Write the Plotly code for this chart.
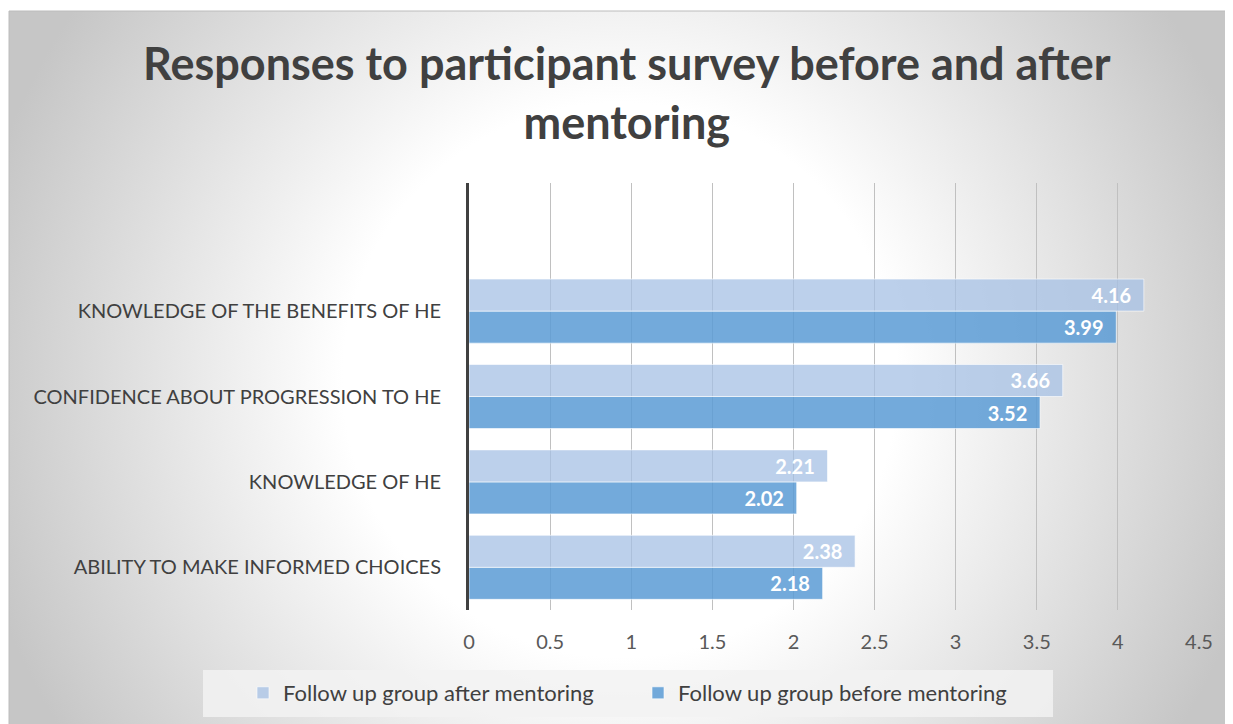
import base64
import plotly.graph_objects as go

categories = ["ABILITY TO MAKE INFORMED CHOICES", "KNOWLEDGE OF HE",
              "CONFIDENCE ABOUT PROGRESSION TO HE", "KNOWLEDGE OF THE BENEFITS OF HE"]
before = [2.18, 2.02, 3.52, 3.99]
after = [2.38, 2.21, 3.66, 4.16]
x_ticks = [0, 0.5, 1, 1.5, 2, 2.5, 3, 3.5, 4, 4.5]
series_names = ["Follow up group before mentoring", "Follow up group after mentoring"]
title_text = "Responses to participant survey before and after<br>mentoring"

# page body adds an 8px offset; work in figure pixels = reference pixels - 8
OFF = 8
W, H = 1233, 724
L, R, T, B = 469 - OFF, 1199 - OFF, 183 - OFF, 610 - OFF

# background radial gradient (drawn in its own pixel space, frame starts at ref (9, 11))
FX, FY = 9, 11
GW, GH = W + OFF - FX, H + OFF - FY
gcx, gcy = 620 - FX, 380 - FY
svg = f'''<svg xmlns="http://www.w3.org/2000/svg" width="{GW}" height="{GH}" viewBox="0 0 {GW} {GH}" preserveAspectRatio="none">
<defs><radialGradient id="g" gradientUnits="userSpaceOnUse" cx="{gcx}" cy="{gcy}" r="660">
<stop offset="0" stop-color="#ffffff"/><stop offset="0.42" stop-color="#ffffff"/>
<stop offset="1" stop-color="#c6c6c6"/></radialGradient></defs>
<rect x="0" y="0" width="{GW}" height="{GH}" fill="url(#g)"/></svg>'''
src = "data:image/svg+xml;base64," + base64.b64encode(svg.encode()).decode()


def px_x(p):  # p in reference pixels
    return (p - OFF - L) / (R - L)


def px_y(p):
    return (B - (p - OFF)) / (B - T)


ypos = list(range(len(categories)))
font = "Lato"
pad = "\u00a0\u00a0"

fig = go.Figure()
fig.add_trace(go.Bar(
    y=ypos, x=before, orientation="h", name=series_names[0],
    marker=dict(color="rgba(91,155,213,0.85)", line=dict(color="rgba(255,255,255,0.6)", width=1)),
    text=[f"{v:.2f}{pad}" for v in before], textposition="inside", insidetextanchor="end",
    textfont=dict(family=font, size=20, color="white", weight="bold"),
))
fig.add_trace(go.Bar(
    y=ypos, x=after, orientation="h", name=series_names[1],
    marker=dict(color="rgba(165,192,228,0.75)", line=dict(color="rgba(255,255,255,0.6)", width=1)),
    text=[f"{v:.2f}{pad}" for v in after], textposition="inside", insidetextanchor="end",
    textfont=dict(family=font, size=20, color="white", weight="bold"),
))

fig.update_layout(
    width=W, height=H,
    margin=dict(l=L, r=W - R, t=T, b=H - B, autoexpand=False),
    paper_bgcolor="white", plot_bgcolor="rgba(0,0,0,0)",
    barmode="group", bargap=0.25, bargroupgap=0,
    font=dict(family=font, color="#404040"),
    xaxis=dict(range=[0, 4.5], tickvals=x_ticks, ticktext=[f"{v:g}" for v in x_ticks],
               showgrid=True, gridcolor="#c0c0c0", gridwidth=1, zeroline=False,
               showline=False, ticks="", ticklabelstandoff=18,
               tickfont=dict(family=font, size=20, color="#595959"), fixedrange=True),
    yaxis=dict(range=[-0.5, 4.5], tickvals=ypos, ticktext=categories,
               showgrid=False, zeroline=False, showline=True, linecolor="#404040", linewidth=3,
               ticks="", ticklabelstandoff=21,
               tickfont=dict(family=font, size=20, color="#404040"), fixedrange=True),
    legend=dict(orientation="h", traceorder="reversed", x=px_x(243), xanchor="left",
                y=px_y(693), yanchor="middle", bgcolor="rgba(0,0,0,0)",
                font=dict(family=font, size=22, color="#404040"), entrywidth=350),
    showlegend=True,
    annotations=[dict(text=f"<b>{title_text}</b>", xref="paper", yref="paper",
                      x=px_x(627), y=px_y(92), xanchor="center", yanchor="middle",
                      showarrow=False, font=dict(family=font, size=45, color="#404040"))],
    images=[dict(source=src, xref="paper", yref="paper", x=px_x(FX), y=px_y(FY),
                 sizex=GW / (R - L), sizey=GH / (B - T),
                 xanchor="left", yanchor="top", sizing="stretch", layer="below")],
    shapes=[
        dict(type="rect", xref="paper", yref="paper", x0=px_x(FX), x1=px_x(1250),
             y0=px_y(740), y1=px_y(FY), line=dict(color="#bcbcbc", width=1), layer="below"),
        dict(type="rect", xref="paper", yref="paper", x0=px_x(203), x1=px_x(1053),
             y0=px_y(717), y1=px_y(670), line=dict(width=0), fillcolor="rgba(242,242,242,0.85)",
             layer="below"),
    ],
)

fig.write_html("out.html")
